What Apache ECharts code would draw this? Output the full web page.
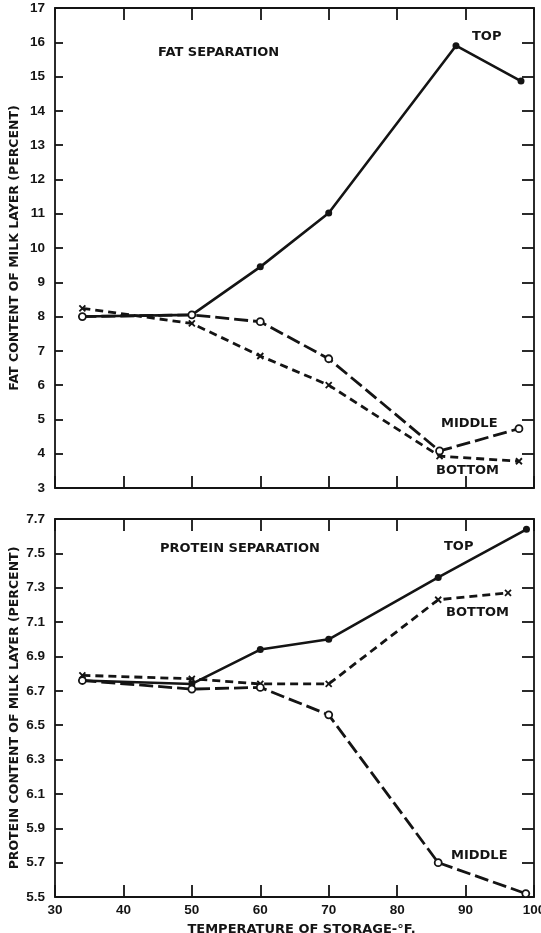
<!DOCTYPE html>
<html>
<head>
<meta charset="utf-8">
<script src="https://cdn.jsdelivr.net/npm/echarts@6/dist/echarts.min.js"></script>
<style>
  html, body { margin: 0; padding: 0; background: #fff; }
  #chart { width: 541px; height: 933px; }
</style>
</head>
<body>
<div id="chart"></div>
<script>
// Storage temperature (°F) against composition of the top, middle and bottom milk layers
const fatTop    = [[34, 8.0], [50, 8.05], [60, 9.45], [70, 11.02], [88.6, 15.9], [98.1, 14.87]];
const fatMiddle = [[34, 8.0], [50, 8.05], [60, 7.85], [70, 6.77], [86.2, 4.08], [97.8, 4.73]];
const fatBottom = [[34, 8.24], [50, 7.8], [60, 6.85], [70, 6.0], [86.2, 3.93], [97.8, 3.78]];

const proteinTop    = [[34, 6.76], [50, 6.74], [60, 6.94], [70, 7.0], [86, 7.36], [98.9, 7.64]];
const proteinMiddle = [[34, 6.76], [50, 6.71], [60, 6.72], [70, 6.56], [86, 5.70], [98.8, 5.52]];
const proteinBottom = [[34, 6.79], [50, 6.77], [60, 6.74], [70, 6.74], [86, 7.23], [96.2, 7.27]];

const tempTicks = { min: 30, max: 100, interval: 10 };
const fatTicks = { min: 3, max: 17, interval: 1 };
const proteinTicks = { min: 5.5, max: 7.7, interval: 0.2 };

const INK = '#141414';
const LETTER = 'bold 13px "DejaVu Sans"';
const NUM_FONT = 'Liberation Sans';

const chart = echarts.init(document.getElementById('chart'), null, { renderer: 'canvas' });

function xAxisFor(gridIndex, position, showLabels) {
  return {
    type: 'value', gridIndex, position,
    min: tempTicks.min, max: tempTicks.max, interval: tempTicks.interval,
    axisLine: { show: true, onZero: false, lineStyle: { color: INK, width: 1.8 } },
    axisTick: { show: true, inside: true, length: 12, lineStyle: { color: INK, width: 1.8 } },
    axisLabel: {
      show: showLabels, color: INK, fontFamily: NUM_FONT, fontWeight: 'bold', fontSize: 13.5, margin: 6,
      hideOverlap: false
    },
    splitLine: { show: false }
  };
}

function yAxisFor(gridIndex, position, ticks, showLabels, name, fmt) {
  return {
    type: 'value', gridIndex, position,
    min: ticks.min, max: ticks.max, interval: ticks.interval,
    axisLine: { show: true, onZero: false, lineStyle: { color: INK, width: 1.8 } },
    axisTick: { show: true, inside: true, length: position === 'left' ? 8 : 12, lineStyle: { color: INK, width: 1.8 } },
    axisLabel: {
      show: showLabels, color: INK, fontFamily: NUM_FONT, fontWeight: 'bold', fontSize: 13.5, margin: 10,
      formatter: fmt, hideOverlap: false
    },
    splitLine: { show: false },
    name: name || '',
    nameLocation: 'middle',
    nameGap: 34,
    nameMoveOverlap: false,
    nameTextStyle: { color: INK, fontFamily: 'DejaVu Sans', fontWeight: 'bold', fontSize: 12.5 }
  };
}

const markerDot = { symbol: 'circle', symbolSize: 7, itemStyle: { color: INK } };
const markerRing = { symbol: 'circle', symbolSize: 7, itemStyle: { color: '#fff', borderColor: INK, borderWidth: 1.8 } };
const markerCross = {
  symbol: 'path://M0,0L10,10M10,0L0,10', symbolSize: 6,
  itemStyle: { color: INK, borderColor: INK, borderWidth: 1.8 }
};

// the open rings of the middle layer sit above the other layers where they share a point
const layerZ = { top: 3, middle: 4, bottom: 2 };

function layerSeries(data, xi, yi, kind) {
  const base = {
    type: 'line', data, xAxisIndex: xi, yAxisIndex: yi,
    showSymbol: true, animation: false, z: layerZ[kind],
    emphasis: { disabled: true }
  };
  if (kind === 'top') {
    return Object.assign(base, markerDot, { lineStyle: { color: INK, width: 2.6, type: 'solid' } });
  }
  if (kind === 'middle') {
    return Object.assign(base, markerRing, { lineStyle: { color: INK, width: 2.8, type: [14, 5] } });
  }
  return Object.assign(base, markerCross, { lineStyle: { color: INK, width: 2.8, type: [8, 5] } });
}

function note(text, x, y) {
  return {
    type: 'text', left: x, top: y - 7, z: 10,
    style: { text, font: LETTER, fill: INK }
  };
}

const oneDecimal = v => v.toFixed(1);

chart.setOption({
  backgroundColor: '#fff',
  animation: false,
  grid: [
    { left: 55, right: 7, top: 8, height: 480, containLabel: false, outerBoundsMode: 'none' },
    { left: 55, right: 7, top: 519, height: 378, containLabel: false, outerBoundsMode: 'none' }
  ],
  xAxis: [
    xAxisFor(0, 'bottom', false),
    xAxisFor(0, 'top', false),
    Object.assign(xAxisFor(1, 'bottom', true), {
      name: 'TEMPERATURE OF STORAGE-°F.',
      nameLocation: 'middle',
      nameGap: 26,
      nameMoveOverlap: false,
      nameTextStyle: { color: INK, fontFamily: 'DejaVu Sans', fontWeight: 'bold', fontSize: 13, padding: [0, 0, 0, 14] }
    }),
    xAxisFor(1, 'top', false)
  ],
  yAxis: [
    yAxisFor(0, 'left', fatTicks, true, 'FAT CONTENT OF MILK LAYER (PERCENT)'),
    yAxisFor(0, 'right', fatTicks, false),
    yAxisFor(1, 'left', proteinTicks, true, 'PROTEIN CONTENT OF MILK LAYER (PERCENT)', oneDecimal),
    yAxisFor(1, 'right', proteinTicks, false)
  ],
  series: [
    layerSeries(fatMiddle, 0, 0, 'middle'),
    layerSeries(fatBottom, 0, 0, 'bottom'),
    layerSeries(fatTop, 0, 0, 'top'),
    layerSeries(proteinMiddle, 2, 2, 'middle'),
    layerSeries(proteinBottom, 2, 2, 'bottom'),
    layerSeries(proteinTop, 2, 2, 'top')
  ],
  graphic: [
    note('FAT SEPARATION', 158, 53),
    note('TOP', 472, 37),
    note('MIDDLE', 441, 424),
    note('BOTTOM', 436, 471),
    note('PROTEIN SEPARATION', 160, 549),
    note('TOP', 444, 547),
    note('BOTTOM', 446, 613),
    note('MIDDLE', 451, 856)
  ]
});
</script>
</body>
</html>
